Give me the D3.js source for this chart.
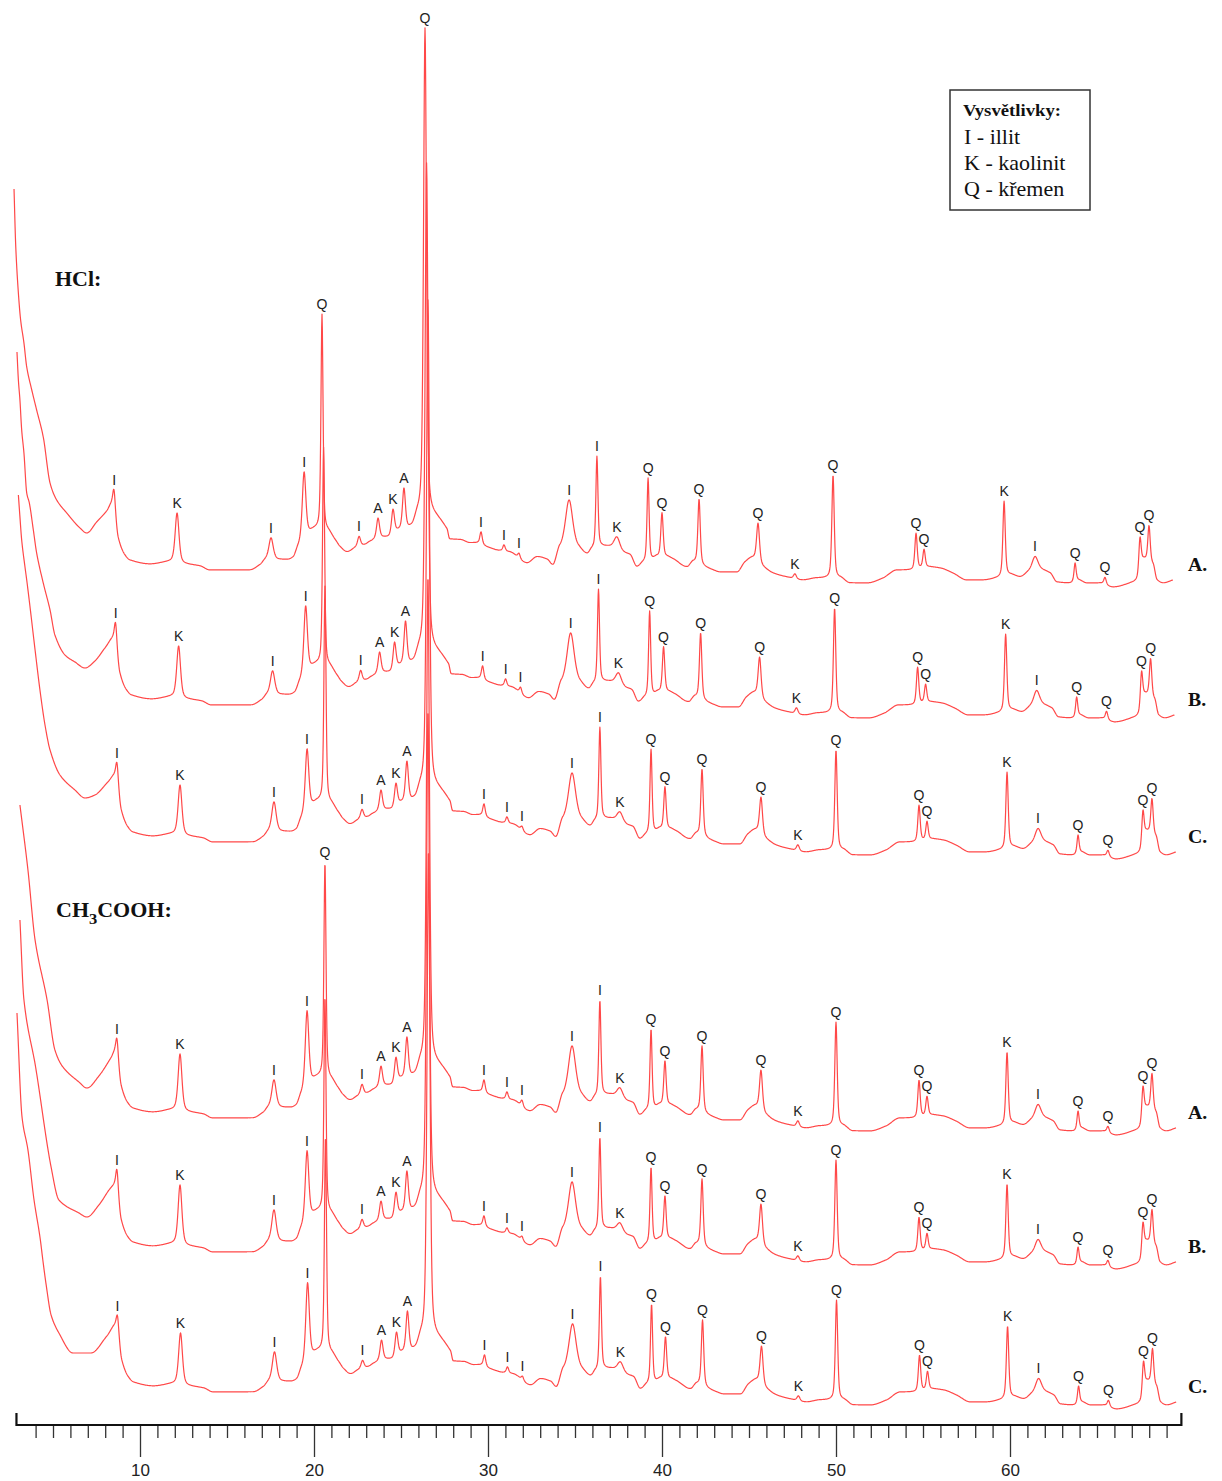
<!doctype html>
<html lang="en">
<head>
<meta charset="utf-8">
<style>
  body { margin: 0; background-color: white; }
  svg { display: block; background-color: white; }
  .trace { fill: none; stroke: #ff4848; stroke-width: 1.2px; stroke-linejoin: round; }
  .plabel { font-family: "Liberation Sans", Arial, sans-serif; font-size: 14px; fill: #222; text-anchor: middle; }
  .serif { font-family: "Liberation Serif", "Times New Roman", serif; fill: #111; }
  .axis line { stroke: #333; stroke-width: 1.3px; }
  .axis text { font-family: "Liberation Sans", Arial, sans-serif; font-size: 17px; fill: #222; }
</style>
</head>
<body>
<script src="https://cdnjs.cloudflare.com/ajax/libs/d3/7.8.5/d3.min.js"></script>
<script>
// ---- data (2theta in degrees, intensity in relative units) ----
var traceNames = ["A.", "B.", "C.", "A.", "B.", "C."];
var groupNames = ["HCl:", "CH3COOH:"];
var shift = [0, 0.09, 0.17, 0.17, 0.17, 0.2];   // small 2theta displacement of each sample
var traceEnd = 69.37;

var peakPos   = [8.51, 12.13, 17.53, 19.43, 20.46, 22.59, 23.68, 24.54, 25.17, 26.38, 29.60, 30.92, 31.78, 34.66, 36.26, 37.41, 39.20, 40.00, 42.13, 45.52, 47.64, 49.83, 54.60, 55.06, 59.66, 61.44, 63.74, 65.46, 67.47, 67.99];
var peakPhase = ["I", "K", "I", "I", "Q", "I", "A", "K", "A", "Q", "I", "I", "I", "I", "I", "K", "Q", "Q", "Q", "Q", "K", "Q", "Q", "Q", "K", "I", "Q", "Q", "Q", "Q"];
var peakWidth = [0.08, 0.13, 0.15, 0.12, 0.07, 0.10, 0.10, 0.10, 0.10, 0.10, 0.08, 0.08, 0.08, 0.25, 0.07, 0.20, 0.07, 0.08, 0.08, 0.10, 0.10, 0.08, 0.08, 0.08, 0.08, 0.20, 0.07, 0.08, 0.08, 0.08];

var heightHClA = [15, 50, 22, 67, 216, 10, 20, 25, 41, 490, 12, 6, 5, 50, 91, 13, 83, 44, 65, 39, 5, 103, 36, 18, 75, 14, 18, 7, 34, 36];
var heightHClB = [17, 52, 24, 68, 218, 11, 21, 27, 43, 490, 13, 7, 6, 52, 93, 12, 85, 45, 66, 40, 6, 105, 37, 18, 77, 15, 19, 8, 35, 38];
var heightHClC = [14, 50, 30, 62, 216, 9, 20, 23, 40, 490, 12, 6, 4, 49, 92, 10, 84, 42, 67, 37, 6, 100, 36, 18, 76, 14, 18, 6, 33, 35];
var heightCHA  = [14, 57, 28, 76, 216, 10, 20, 25, 40, 490, 12, 7, 6, 52, 95, 10, 80, 44, 66, 40, 6, 104, 37, 19, 72, 14, 18, 6, 33, 36];
var heightCHB  = [17, 60, 32, 70, 216, 9, 19, 24, 40, 490, 10, 5, 4, 50, 92, 9, 76, 43, 67, 40, 5, 100, 34, 16, 74, 13, 16, 6, 31, 34];
var heightCHC  = [11, 52, 30, 78, 216, 8, 20, 24, 40, 490, 11, 6, 4, 48, 93, 10, 79, 42, 66, 38, 5, 100, 36, 18, 72, 14, 17, 6, 32, 35];
var heights = [heightHClA, heightHClB, heightHClC, heightCHA, heightCHB, heightCHC];

// peak labels not printed (hidden behind the neighbouring trace)
var hiddenLabels = [[], [4, 9], [4, 9], [9], [4, 9], [4, 9]];

// background level between peaks (same for all samples)
var bgTheta = [8.45, 8.75, 9.10, 9.43, 10.6, 11.7, 12.5, 13.45, 14.0, 15.2, 16.3, 16.9, 17.25, 17.82, 18.5, 18.8, 19.08, 19.66, 20.1, 20.8, 21.2, 21.5, 21.9, 22.36, 22.93, 23.22, 23.91, 24.25, 24.83, 25.4, 25.63, 25.97, 26.84, 27.64, 27.8, 28.4, 28.97, 29.37, 29.95, 30.52, 31.27, 32.25, 32.82, 33.4, 33.73, 34.13, 35.17, 35.69, 35.98, 36.55, 36.84, 37.1, 37.76, 38.16, 38.56, 38.9, 39.43, 39.71, 40.29, 40.63, 41.44, 41.79, 42.47, 42.93, 43.33, 44.31, 44.77, 45.17, 45.81, 46.38, 47.19, 48.1, 48.9, 49.48, 50.23, 50.8, 51.78, 52.7, 53.5, 54.25, 55.4, 55.98, 56.72, 57.53, 58.45, 59.25, 60.06, 60.58, 61.1, 61.72, 62.3, 62.7, 63.45, 63.91, 64.43, 65.17, 65.92, 66.9, 67.3, 67.7, 68.22, 68.45, 68.8, 69.37];
var bgLevel = [88, 52, 36, 30, 26, 28, 26, 24, 20, 20, 20, 25, 30, 30, 30, 32, 42, 55, 60, 58, 50, 43, 38, 42, 45, 48, 52, 52, 58, 60, 62, 72, 72, 60, 50, 50, 47, 47, 43, 40, 38, 27, 33, 30, 24, 40, 40, 35, 40, 43, 43, 42, 37, 35, 23, 27, 30, 33, 33, 31, 23, 28, 23, 20, 18, 18, 28, 32, 23, 17, 13, 10, 12, 12, 12, 7, 7, 12, 20, 20, 23, 22, 17, 10, 10, 12, 15, 13, 18, 20, 17, 8, 7, 10, 7, 7, 3, 7, 10, 30, 25, 10, 7, 10];

// steep low-angle rise of each sample [2theta, intensity]
var lowAngle = [
  [[2.76, 401], [2.86, 343], [3.01, 297], [3.14, 270], [3.33, 247], [3.49, 223], [3.78, 200], [4.06, 180], [4.44, 153], [4.83, 107], [5.21, 90], [5.79, 77], [6.55, 62], [6.94, 57], [7.51, 68], [8.09, 79]],
  [[2.93, 373], [3.01, 345], [3.10, 325], [3.20, 295], [3.33, 272], [3.49, 232], [3.64, 222], [3.87, 195], [4.06, 172], [4.44, 142], [4.83, 115], [5.11, 90], [5.69, 70], [6.26, 63], [6.84, 57], [7.41, 64], [7.99, 77]],
  [[3.01, 367], [3.10, 345], [3.20, 322], [3.39, 295], [3.49, 282], [3.68, 255], [3.97, 212], [4.25, 172], [4.54, 137], [4.83, 112], [5.40, 87], [6.26, 72], [6.84, 64], [7.41, 67], [8.16, 80]],
  [[3.10, 333], [3.56, 268], [3.97, 198], [4.66, 138], [5.11, 88], [5.57, 71], [6.49, 56], [6.95, 50], [7.64, 62], [8.33, 80]],
  [[3.10, 352], [3.33, 272], [4.00, 205], [4.89, 105], [5.34, 72], [6.49, 59], [6.95, 55], [7.64, 67], [8.33, 84]],
  [[2.93, 399], [3.22, 295], [3.56, 262], [3.91, 212], [4.25, 175], [4.43, 150], [4.60, 128], [4.89, 97], [5.34, 79], [6.15, 59], [7.18, 59], [8.10, 76]]
];

var majorTicks = [10, 20, 30, 40, 50, 60];
var minorTicks = d3.range(4, 70).filter(function(d) { return d % 10 !== 0; });

var legendTitle = "Vysvětlivky:";
var legendItems = ["I - illit", "K - kaolinit", "Q - křemen"];

// ---- layout ----
var width = 1222, height = 1481;
var traceZero = [590, 725, 862, 1138, 1272, 1412];
var axisY = 1425;
var serifStretch = 1.1;   // the original serif lettering is a bit wider

var x = d3.scaleLinear().domain([3, 70]).range([18.2, 1184]);
var y = d3.scaleLinear().domain([0, 600]).range([0, -600]);

var svg = d3.select("body").append("svg")
  .attr("width", width)
  .attr("height", height);

function pv(d, w) {
  var u = d / w;
  return 0.5 / (1 + u * u) + 0.5 * Math.exp(-0.6931 * u * u);
}

// monotone cubic through the background anchors
function monotone(xs, ys) {
  var n = xs.length, d = [], m = [];
  for (var i = 0; i < n - 1; i++) d[i] = (ys[i + 1] - ys[i]) / (xs[i + 1] - xs[i]);
  m[0] = d[0]; m[n - 1] = d[n - 2];
  for (i = 1; i < n - 1; i++) {
    m[i] = d[i - 1] * d[i] <= 0 ? 0 : 2 / (1 / d[i - 1] + 1 / d[i]);
  }
  return function(v) {
    if (v <= xs[0]) return ys[0];
    if (v >= xs[n - 1]) return ys[n - 1];
    var k = d3.bisectRight(xs, v) - 1;
    var h = xs[k + 1] - xs[k], t = (v - xs[k]) / h, t2 = t * t, t3 = t2 * t;
    return (2 * t3 - 3 * t2 + 1) * ys[k] + (t3 - 2 * t2 + t) * h * m[k] +
      (-2 * t3 + 3 * t2) * ys[k + 1] + (t3 - t2) * h * m[k + 1];
  };
}

function profile(t) {
  var low = lowAngle[t];
  var lastLow = low[low.length - 1][0];
  var th = low.map(function(p) { return p[0]; });
  var lv = low.map(function(p) { return p[1]; });
  bgTheta.forEach(function(b, i) {
    if (b + shift[t] > lastLow + 0.05) { th.push(b + shift[t]); lv.push(bgLevel[i]); }
  });
  var bg = monotone(th, lv);
  return function(tt) {
    var v = bg(tt);
    for (var k = 0; k < peakPos.length; k++) {
      var d = tt - (peakPos[k] + shift[t]);
      if (Math.abs(d) < 4) v += heights[t][k] * pv(d, peakWidth[k]);
    }
    return v;
  };
}

var line = d3.line()
  .x(function(d) { return x(d[0]); })
  .y(function(d) { return y(d[1]); });

function serifText(parent, px, py, size, bold) {
  return parent.append("g")
    .attr("transform", "translate(" + px + "," + py + ") scale(" + serifStretch + ",1)")
    .append("text").attr("class", "serif")
    .style("font-size", size + "px")
    .style("font-weight", bold ? "bold" : "normal");
}

traceNames.forEach(function(name, t) {
  var f = profile(t);
  var start = lowAngle[t][0][0];
  var pts = d3.range(start, traceEnd + shift[t], 0.02).map(function(tt) { return [tt, f(tt)]; });

  var g = svg.append("g").attr("transform", "translate(0," + traceZero[t] + ")");
  g.append("path").attr("class", "trace").attr("d", line(pts));

  peakPos.forEach(function(p, k) {
    if (hiddenLabels[t].indexOf(k) >= 0) return;
    var px = p + shift[t];
    var top = f(px);
    g.append("text").attr("class", "plabel")
      .attr("x", x(px))
      .attr("y", y(top) - 5)
      .text(peakPhase[k]);
  });

  serifText(g, 1188, -19, 18, true).text(name);
});

// group titles
serifText(svg, 55, 286, 20, true).text(groupNames[0]);

var ch = serifText(svg, 56, 917, 20, true);
ch.append("tspan").text("CH");
ch.append("tspan").attr("dy", 7).style("font-size", "15px").text("3");
ch.append("tspan").attr("dy", -7).text("COOH:");

// legend
var lg = svg.append("g").attr("transform", "translate(950,90)");
lg.append("rect").attr("width", 140).attr("height", 120)
  .attr("fill", "white").attr("stroke", "#333").attr("stroke-width", 1.5);
serifText(lg, 13, 26, 17, true).text(legendTitle);
legendItems.forEach(function(d, i) {
  serifText(lg, 14, 54 + i * 26, 20, false).text(d);
});

// x axis
var gx = svg.append("g").attr("class", "axis").attr("transform", "translate(0," + axisY + ")");
gx.append("g")
  .call(d3.axisBottom(x).tickValues(minorTicks).tickSize(13).tickFormat(""))
  .call(function(g) { g.select(".domain").remove(); });
gx.append("g")
  .call(d3.axisBottom(x).tickValues(majorTicks).tickSize(32).tickPadding(7))
  .call(function(g) { g.select(".domain").remove(); });
gx.append("path")
  .attr("d", "M" + x(2.9) + ",-12V0H" + x(69.85) + "V-12")
  .attr("fill", "none").attr("stroke", "#111").attr("stroke-width", 2.2);
</script>
</body>
</html>
